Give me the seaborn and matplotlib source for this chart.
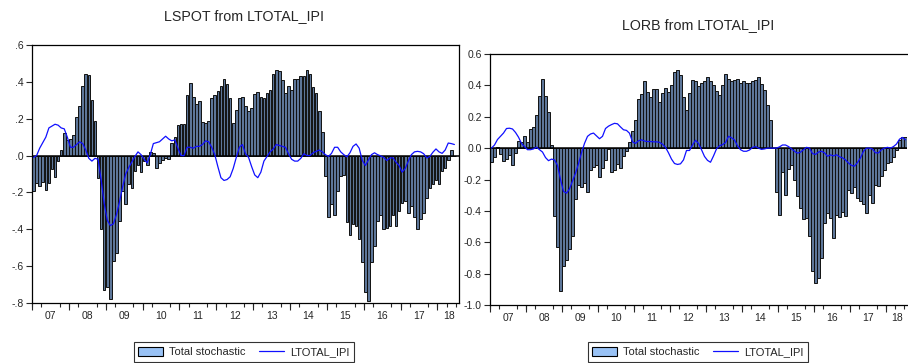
import numpy as np
import matplotlib
matplotlib.use("Agg")
import matplotlib.pyplot as plt
import seaborn as sns
from matplotlib.patches import Patch
from matplotlib.lines import Line2D

# monthly observations, 2007m1 onwards
start_year = 2007
n_months = 139

year_labels = ["07", "08", "09", "10", "11", "12", "13", "14", "15", "16", "17", "18"]

# LSPOT from LTOTAL_IPI
lspot_total = [
    -0.19, -0.15, -0.165, -0.145, -0.185, -0.15, -0.075, -0.115, -0.03, 0.03,
    0.12, 0.085, 0.09, 0.11, 0.21, 0.27, 0.375, 0.44, 0.435, 0.30,
    0.19, -0.12, -0.40, -0.73, -0.715, -0.78, -0.57, -0.53, -0.355, -0.19,
    -0.265, -0.155, -0.175, -0.085, -0.05, -0.09, -0.03, -0.05, 0.02, 0.015,
    -0.065, -0.04, -0.025, -0.015, -0.02, 0.07, 0.10, 0.165, 0.17, 0.17,
    0.33, 0.395, 0.32, 0.28, 0.295, 0.18, 0.175, 0.19, 0.31, 0.33,
    0.35, 0.375, 0.415, 0.39, 0.31, 0.175, 0.245, 0.315, 0.32, 0.27,
    0.24, 0.26, 0.335, 0.345, 0.32, 0.31, 0.34, 0.355, 0.445, 0.465,
    0.46, 0.41, 0.34, 0.38, 0.355, 0.415, 0.415, 0.43, 0.43, 0.465,
    0.445, 0.37, 0.34, 0.24, 0.13, -0.11, -0.335, -0.265, -0.325, -0.19,
    -0.11, -0.105, -0.36, -0.43, -0.37, -0.38, -0.45, -0.58, -0.74, -0.79,
    -0.575, -0.49, -0.355, -0.32, -0.40, -0.395, -0.38, -0.32, -0.38, -0.30,
    -0.26, -0.245, -0.31, -0.275, -0.335, -0.40, -0.345, -0.31, -0.23, -0.175,
    -0.155, -0.13, -0.155, -0.085, -0.07, -0.025, 0.03, 0.0,
]
lspot_ipi = [
    -0.01, 0.0, 0.04, 0.07, 0.10, 0.15, 0.16, 0.17, 0.165, 0.15,
    0.145, 0.10, 0.045, 0.045, 0.06, 0.075, 0.065, 0.03, -0.015, -0.03,
    -0.015, -0.02, -0.13, -0.26, -0.35, -0.38, -0.37, -0.32, -0.25, -0.17,
    -0.10, -0.065, -0.035, -0.005, 0.02, 0.005, -0.02, -0.04, 0.005, 0.065,
    0.07, 0.075, 0.09, 0.105, 0.09, 0.08, 0.085, 0.04, 0.0, 0.0,
    0.045, 0.045, 0.04, 0.05, 0.05, 0.06, 0.08, 0.075, 0.045, 0.005,
    -0.06, -0.12, -0.135, -0.13, -0.115, -0.07, -0.01, 0.045, 0.06, 0.01,
    -0.01, -0.06, -0.105, -0.12, -0.09, -0.03, -0.005, 0.02, 0.035, 0.06,
    0.055, 0.05, 0.045, 0.01, -0.02, -0.03, -0.03, -0.015, 0.01, 0.0,
    0.0, 0.015, 0.023, 0.03, 0.02, 0.005, -0.005, 0.012, 0.045, 0.045,
    0.02, 0.005, -0.007, 0.015, 0.05, 0.063, 0.04, -0.025, -0.054, -0.025,
    0.005, 0.015, 0.005, -0.002, -0.01, -0.027, -0.013, -0.012, -0.036, -0.054,
    -0.09, -0.07, -0.03, 0.005, 0.02, 0.023, 0.02, 0.01, -0.013, -0.005,
    0.018, 0.036, 0.02, 0.012, 0.03, 0.068, 0.065, 0.06,
]

# LORB from LTOTAL_IPI
lorb_total = [
    -0.09, -0.057, 0.006, -0.036, -0.083, -0.07, -0.042, -0.106, -0.028, 0.045,
    0.04, 0.08, 0.04, 0.12, 0.134, 0.21, 0.335, 0.44, 0.33, 0.23,
    0.02, -0.43, -0.63, -0.91, -0.75, -0.715, -0.64, -0.563, -0.325, -0.236,
    -0.245, -0.22, -0.282, -0.138, -0.123, -0.106, -0.185, -0.127, -0.074, -0.005,
    -0.15, -0.138, -0.104, -0.127, -0.049, -0.021, 0.042, 0.106, 0.18, 0.314,
    0.346, 0.431, 0.357, 0.329, 0.376, 0.376, 0.291, 0.35, 0.382, 0.355,
    0.403, 0.488, 0.495, 0.468, 0.325, 0.244, 0.35, 0.435, 0.425, 0.393,
    0.418, 0.425, 0.456, 0.429, 0.403, 0.361, 0.34, 0.403, 0.473, 0.44,
    0.431, 0.435, 0.44, 0.414, 0.431, 0.414, 0.414, 0.425, 0.435, 0.452,
    0.41, 0.372, 0.276, 0.18, 0.0, -0.277, -0.425, -0.15, -0.30, -0.13,
    -0.11, -0.20, -0.305, -0.383, -0.453, -0.447, -0.563, -0.786, -0.86, -0.828,
    -0.702, -0.479, -0.415, -0.447, -0.574, -0.425, -0.436, -0.404, -0.432, -0.266,
    -0.287, -0.245, -0.32, -0.34, -0.355, -0.415, -0.298, -0.35, -0.234, -0.24,
    -0.18, -0.14, -0.096, -0.09, -0.057, -0.01, 0.053, 0.07, 0.074,
]
lorb_ipi = [
    0.0, 0.02, 0.055, 0.076, 0.096, 0.125, 0.127, 0.122, 0.10, 0.07,
    0.03, 0.01, -0.01, -0.01, -0.005, 0.006, -0.01, -0.025, -0.06, -0.08,
    -0.07, -0.075, -0.11, -0.20, -0.276, -0.287, -0.26, -0.21, -0.16, -0.10,
    -0.03, 0.03, 0.075, 0.09, 0.096, 0.078, 0.06, 0.075, 0.125, 0.14,
    0.15, 0.158, 0.155, 0.135, 0.117, 0.113, 0.095, 0.04, 0.03, 0.047,
    0.053, 0.045, 0.042, 0.042, 0.04, 0.04, 0.037, 0.025, 0.005, -0.03,
    -0.07, -0.098, -0.104, -0.10, -0.075, -0.015, -0.015, 0.02, 0.05, 0.03,
    -0.01, -0.053, -0.078, -0.09, -0.05, -0.005, 0.015, 0.022, 0.035, 0.075,
    0.066, 0.052, 0.015, -0.01, -0.02, -0.02, -0.012, 0.004, 0.01, 0.0,
    -0.008, -0.005, 0.0, 0.0, 0.0, 0.0, 0.008, 0.02, 0.02, 0.01,
    -0.005, -0.02, -0.032, -0.026, -0.01, 0.005, 0.0, -0.035, -0.04, -0.025,
    -0.02, -0.03, -0.052, -0.043, -0.05, -0.042, -0.055, -0.062, -0.075, -0.095,
    -0.11, -0.115, -0.092, -0.062, -0.02, 0.0, 0.0, -0.006, -0.03, -0.03,
    -0.01, 0.0, 0.005, 0.0, 0.01, 0.026, 0.057, 0.068, 0.053,
]

bar_face = "#99c2f5"
bar_drawn = "#5d7699"   # how the thin bars read on screen
line_col = "#1010ff"

sns.set_style("ticks")
plt.rcParams["font.family"] = ["Liberation Sans", "DejaVu Sans"]


def month_pos(n):
    return start_year + (np.arange(n) + 0.5) / 12.0


def draw_panel(ax, total, ipi, ylim, ystep, ylabels, hide_right=False):
    t_bar = month_pos(len(total))
    t_line = month_pos(len(ipi))
    sns.barplot(x=t_bar, y=total, native_scale=True, width=0.85,
                color=bar_drawn, saturation=1, edgecolor="#111111",
                linewidth=0.7, errorbar=None, ax=ax, zorder=2)
    ax.axhline(0, color="black", lw=1.1, zorder=3)
    sns.lineplot(x=t_line, y=ipi, color=line_col, lw=0.9, ax=ax, zorder=4)

    ax.set_xlim(start_year, start_year + n_months / 12.0)
    ax.set_ylim(*ylim)
    yt = np.arange(ylim[0], ylim[1] + 1e-9, ystep)
    ax.set_yticks(yt)
    ax.set_yticklabels(ylabels)

    mids = [start_year + k + 0.5 for k in range(len(year_labels) - 1)]
    mids.append(start_year + 11 + 0.32)
    ax.set_xticks(mids)
    ax.set_xticklabels(year_labels)
    ax.tick_params(axis="x", which="major", length=0, pad=6, labelsize=7.5)
    quarters = np.arange(start_year, start_year + n_months / 12.0 + 1e-9, 0.25)
    ax.set_xticks(quarters, minor=True)
    ax.tick_params(axis="x", which="minor", length=3, width=0.8, direction="out")
    ax.tick_params(axis="y", length=4, width=0.8, labelsize=7.5, pad=2)

    sec = ax.secondary_xaxis("bottom")
    sec.set_xticks(np.arange(start_year, start_year + 12))
    sec.set_xticklabels([])
    sec.tick_params(length=5, width=0.8)
    sec.spines["bottom"].set_visible(False)

    for s in ax.spines.values():
        s.set_linewidth(0.9)
        s.set_color("black")
    if hide_right:
        ax.spines["right"].set_visible(False)
    ax.set_xlabel("")
    ax.set_ylabel("")


fig = plt.figure(figsize=(9.08, 3.63), dpi=100)
ax1 = fig.add_axes([32 / 908, 1 - 303 / 363, 427 / 908, 258 / 363])
ax2 = fig.add_axes([490 / 908, 1 - 305 / 363, 417 / 908, 251 / 363])

draw_panel(ax1, lspot_total, lspot_ipi, (-0.8, 0.6), 0.2,
           ["-.8", "-.6", "-.4", "-.2", ".0", ".2", ".4", ".6"])
draw_panel(ax2, lorb_total, lorb_ipi, (-1.0, 0.6), 0.2,
           ["-1.0", "-0.8", "-0.6", "-0.4", "-0.2", "0.0", "0.2", "0.4", "0.6"],
           hide_right=True)

fig.text(244 / 908, 1 - 16 / 363, "LSPOT from LTOTAL_IPI", ha="center", va="center", fontsize=10.3)
fig.text(698 / 908, 1 - 25 / 363, "LORB from LTOTAL_IPI", ha="center", va="center", fontsize=10.3)

handles = [Patch(facecolor=bar_face, edgecolor="black", linewidth=0.8),
           Line2D([0], [0], color=line_col, lw=0.9)]
names = ["Total stochastic", "LTOTAL_IPI"]
for cx in (244, 698):
    leg = fig.legend(handles, names, loc="center", bbox_to_anchor=(cx / 908, 1 - 352 / 363),
                     ncol=2, fontsize=8, frameon=True, fancybox=False, edgecolor="black",
                     handlelength=2.2, handleheight=0.9, columnspacing=1.2,
                     borderpad=0.4, handletextpad=0.6)
    leg.get_frame().set_linewidth(0.8)

fig.savefig("out.png", dpi=100)
